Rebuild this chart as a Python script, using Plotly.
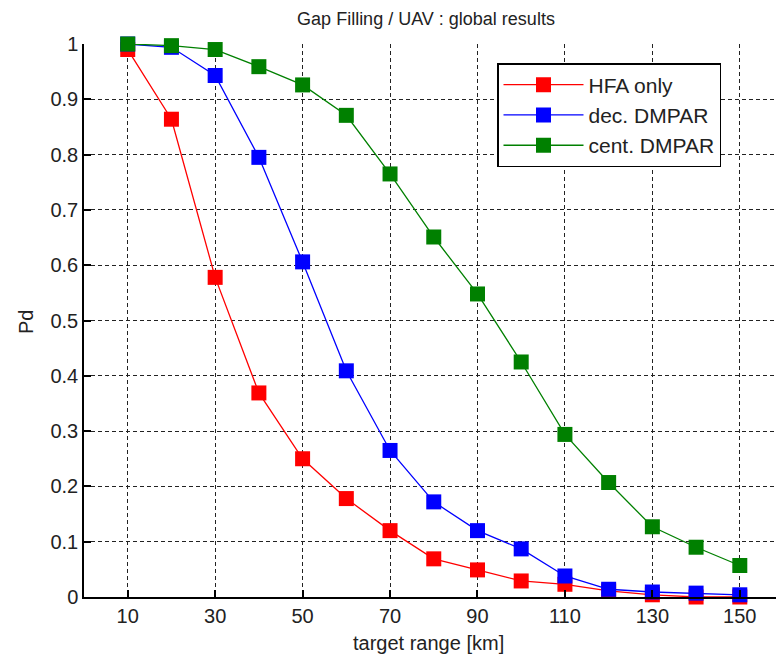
import plotly.graph_objects as go

target_range = [10, 20, 30, 40, 50, 60, 70, 80, 90, 100, 110, 120, 130, 140, 150]
hfa_only = [0.99, 0.864, 0.578, 0.369, 0.250, 0.178, 0.120, 0.069, 0.049, 0.029, 0.023, 0.011, 0.004, 0.0, 0.0]
dec_dmpar = [1.0, 0.994, 0.943, 0.795, 0.606, 0.409, 0.265, 0.172, 0.120, 0.087, 0.038, 0.014, 0.009, 0.007, 0.004]
cent_dmpar = [1.0, 0.997, 0.990, 0.959, 0.926, 0.871, 0.765, 0.651, 0.548, 0.425, 0.294, 0.207, 0.127, 0.090, 0.057]

series_names = ["HFA only", "dec. DMPAR", "cent. DMPAR"]
series_colors = ["#FF0000", "#0000FF", "#008000"]
series_values = [hfa_only, dec_dmpar, cent_dmpar]

x_tick_vals = [10, 30, 50, 70, 90, 110, 130, 150]
y_tick_vals = [0, 0.1, 0.2, 0.3, 0.4, 0.5, 0.6, 0.7, 0.8, 0.9, 1.0]
y_tick_text = ["0", "0.1", "0.2", "0.3", "0.4", "0.5", "0.6", "0.7", "0.8", "0.9", "1"]

FONT = "Liberation Sans"

fig = go.Figure()
for name, color, vals in zip(series_names, series_colors, series_values):
    fig.add_trace(go.Scatter(
        x=target_range, y=vals, name=name, mode="lines+markers",
        line=dict(color=color, width=1.3),
        marker=dict(symbol="square", size=15, color=color),
        cliponaxis=False,
    ))

W, H = 776, 655
ml, mr, mt, mb = 84, 0, 44, 58
px_per_unit = 4.372

fig.update_layout(
    width=W, height=H,
    margin=dict(l=ml, r=mr, t=mt, b=mb),
    paper_bgcolor="white", plot_bgcolor="white",
    font=dict(family=FONT, size=20, color="#222"),
    showlegend=True,
    legend=dict(
        x=(497 - ml) / (W - ml - mr), y=(H - mb - 63) / (H - mt - mb),
        xanchor="left", yanchor="top",
        bgcolor="white", bordercolor="black", borderwidth=1.5,
        font=dict(family=FONT, size=21, color="#222"),
        itemwidth=80, tracegroupgap=0,
    ),
    title=dict(
        text="Gap Filling / UAV : global results",
        x=426 / W, xanchor="center", xref="container",
        y=1 - 19 / H, yanchor="middle", yref="container",
        font=dict(family=FONT, size=18, color="#222"),
    ),
    xaxis=dict(
        range=[0, (W - ml - mr) / px_per_unit], tickvals=x_tick_vals,
        showgrid=True, gridcolor="#222", gridwidth=1.2, griddash="4px,3px",
        showline=True, linecolor="black", linewidth=1.5,
        ticks="inside", ticklen=7, tickcolor="black", tickwidth=1.5,
        zeroline=False, mirror=False,
        tickfont=dict(family=FONT, size=20, color="#222"),
    ),
    yaxis=dict(
        range=[0, 1], tickvals=y_tick_vals, ticktext=y_tick_text,
        showgrid=True, gridcolor="#222", gridwidth=1.2, griddash="4px,3px",
        showline=True, linecolor="black", linewidth=1.5,
        ticks="inside", ticklen=7, tickcolor="black", tickwidth=1.5,
        zeroline=False, mirror=False,
        tickfont=dict(family=FONT, size=20, color="#222"),
    ),
    annotations=[
        dict(text="target range [km]", xref="paper", yref="paper",
             x=(428 - ml) / (W - ml - mr), y=-(643 - (H - mb)) / (H - mt - mb),
             xanchor="center", yanchor="middle", showarrow=False,
             font=dict(family=FONT, size=20, color="#222")),
        dict(text="Pd", xref="paper", yref="paper",
             x=-(ml - 26) / (W - ml - mr), y=(H - mb - 322) / (H - mt - mb),
             xanchor="center", yanchor="middle", showarrow=False, textangle=-90,
             font=dict(family=FONT, size=20, color="#222")),
    ],
)

fig.write_html("out.html")
